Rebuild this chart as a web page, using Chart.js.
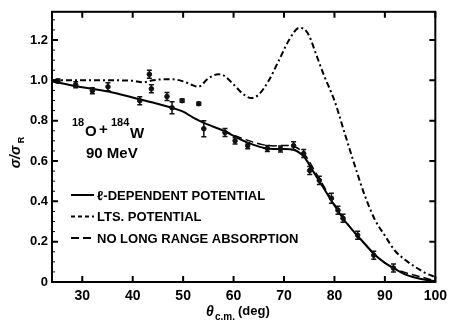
<!DOCTYPE html>
<html>
<head>
<meta charset="utf-8">
<script src="https://cdn.jsdelivr.net/npm/chart.js@4.4.1/dist/chart.umd.min.js"></script>
<style>
  html, body { margin: 0; padding: 0; background: #fff; }
  #wrap { width: 453px; height: 329px; }
</style>
</head>
<body>
<div id="wrap"><canvas id="chart"></canvas></div>
<script>
// axis ticks
const xTicks = [30, 40, 50, 60, 70, 80, 90, 100];
const yTicks = [0, 0.2, 0.4, 0.6, 0.8, 1.0, 1.2];

// measured points (deg, sigma/sigmaR, error)
const dataAngles = [25.2, 28.7, 32.0, 35.1, 41.4, 43.3, 43.7, 46.8, 47.8, 49.8, 53.1, 54.1, 58.3, 60.3, 62.8, 66.7, 69.3, 71.9, 73.9, 75.1, 77.0, 79.4, 80.7, 81.7, 84.6, 87.8, 91.7];
const dataValues = [0.997, 0.978, 0.948, 0.968, 0.899, 1.03, 0.958, 0.92, 0.864, 0.899, 0.884, 0.76, 0.741, 0.70, 0.676, 0.662, 0.66, 0.676, 0.637, 0.553, 0.504, 0.415, 0.356, 0.316, 0.232, 0.133, 0.069];
const dataErrors = [0.01, 0.015, 0.015, 0.02, 0.02, 0.02, 0.02, 0.02, 0.03, 0.008, 0.008, 0.04, 0.02, 0.015, 0.015, 0.015, 0.015, 0.02, 0.02, 0.02, 0.02, 0.025, 0.02, 0.02, 0.02, 0.02, 0.02];

// l-dependent potential (solid)
const ldepAngles = [24, 28, 32, 36, 40, 44, 48, 50, 52, 54, 56, 58, 60, 62, 64, 66, 68, 70, 72, 74, 76, 78, 80, 82, 84, 86, 88, 90, 92, 94, 96, 98, 100];
const ldepValues = [0.995, 0.975, 0.958, 0.94, 0.915, 0.89, 0.862, 0.845, 0.815, 0.79, 0.77, 0.75, 0.725, 0.70, 0.68, 0.665, 0.66, 0.66, 0.655, 0.62, 0.54, 0.46, 0.38, 0.305, 0.245, 0.19, 0.135, 0.095, 0.065, 0.038, 0.022, 0.011, 0.004];

// LTS potential (dashed, big peak)
const ltsAngles = [24, 30, 36, 40, 42, 44, 46, 48, 50, 52, 53, 55, 57, 58, 60, 62, 63.5, 65, 67, 69, 71, 73, 74, 75, 76.5, 78, 80, 82, 84, 86, 88, 90, 92, 94, 96, 98, 100];
const ltsValues = [1.0, 1.0, 1.0, 0.998, 0.99, 1.0, 1.005, 1.005, 0.995, 0.975, 0.968, 1.01, 1.03, 1.025, 0.98, 0.93, 0.912, 0.93, 1.0, 1.1, 1.2, 1.26, 1.255, 1.22, 1.12, 1.02, 0.9, 0.74, 0.58, 0.43, 0.31, 0.23, 0.155, 0.11, 0.075, 0.045, 0.025];

// no long range absorption (long dash)
const nlraAngles = [58, 60, 62, 64, 66, 68, 70, 72, 74, 76, 78, 80, 84, 90, 100];
const nlraValues = [0.752, 0.728, 0.71, 0.693, 0.68, 0.675, 0.677, 0.672, 0.635, 0.555, 0.47, 0.385, 0.245, 0.095, 0.004];

const legendLabels = ["\u2113-DEPENDENT POTENTIAL", "LTS. POTENTIAL", "NO LONG RANGE ABSORPTION"];

const pts = (xs, ys) => xs.map((x, i) => ({ x: x, y: ys[i] }));
const FONT = "'Liberation Sans', 'DejaVu Sans', sans-serif";

const frame = {
  id: 'frame',
  afterDatasetsDraw(chart) {
    const ctx = chart.ctx;
    const a = chart.chartArea;
    const xs = chart.scales.x, ys = chart.scales.y;
    ctx.save();
    // error bars
    const meta = chart.getDatasetMeta(0);
    ctx.strokeStyle = '#111';
    ctx.lineWidth = 1.5;
    meta.data.forEach((el, i) => {
      const e = dataErrors[i];
      const y1 = ys.getPixelForValue(dataValues[i] + e);
      const y2 = ys.getPixelForValue(dataValues[i] - e);
      ctx.beginPath();
      ctx.moveTo(el.x, y1); ctx.lineTo(el.x, y2);
      ctx.moveTo(el.x - 2.5, y1); ctx.lineTo(el.x + 2.5, y1);
      ctx.moveTo(el.x - 2.5, y2); ctx.lineTo(el.x + 2.5, y2);
      ctx.stroke();
    });
    // frame
    ctx.strokeStyle = '#000';
    ctx.lineWidth = 2;
    ctx.strokeRect(a.left, a.top, a.right - a.left, a.bottom - a.top);
    // ticks
    ctx.lineWidth = 2;
    ctx.beginPath();
    xTicks.forEach(v => {
      const px = xs.getPixelForValue(v);
      ctx.moveTo(px, a.bottom); ctx.lineTo(px, a.bottom - 6);
      ctx.moveTo(px, a.top); ctx.lineTo(px, a.top + 6);
    });
    yTicks.forEach(v => {
      const py = ys.getPixelForValue(v);
      ctx.moveTo(a.left, py); ctx.lineTo(a.left + 6, py);
      ctx.moveTo(a.right, py); ctx.lineTo(a.right - 6, py);
    });
    ctx.stroke();
    ctx.lineWidth = 1;
    ctx.beginPath();
    for (let v = 0.05; v < 1.34; v += 0.05) {
      const py = ys.getPixelForValue(v);
      ctx.moveTo(a.left, py); ctx.lineTo(a.left + 3, py);
    }
    ctx.stroke();

    // reaction label
    ctx.fillStyle = '#000';
    ctx.textBaseline = 'alphabetic';
    ctx.textAlign = 'left';
    ctx.font = 'bold 11px ' + FONT;
    ctx.fillText('18', 72, 126);
    ctx.fillText('184', 111, 126);
    ctx.font = 'bold 15px ' + FONT;
    ctx.fillText('O', 85, 136);
    ctx.fillText('+', 99, 134);
    ctx.fillText('W', 130, 138);
    ctx.fillText('90 MeV', 86, 158);

    // legend
    const styles = [[], [4, 3], [8, 4]];
    ctx.font = 'bold 13px ' + FONT;
    legendLabels.forEach((t, i) => {
      const y = 195 + i * 21.5;
      ctx.setLineDash(styles[i]);
      ctx.lineWidth = 2;
      ctx.beginPath();
      ctx.moveTo(71, y); ctx.lineTo(94, y);
      ctx.stroke();
      ctx.setLineDash([]);
      ctx.textBaseline = 'middle';
      ctx.fillText(t, 97, y + 1);
    });

    // x title
    ctx.textBaseline = 'alphabetic';
    ctx.font = 'italic bold 14px ' + FONT;
    ctx.fillText('\u03b8', 206, 316);
    ctx.font = 'bold 10px ' + FONT;
    ctx.fillText('c.m.', 215, 320);
    ctx.font = 'bold 13px ' + FONT;
    ctx.fillText('(deg)', 238, 315);

    // y title
    ctx.translate(20, 154);
    ctx.rotate(-Math.PI / 2);
    ctx.textAlign = 'center';
    ctx.font = 'italic bold 14px ' + FONT;
    ctx.fillText('\u03c3/\u03c3', -3, 0);
    ctx.font = 'bold 9px ' + FONT;
    ctx.fillText('R', 14, 4);
    ctx.restore();
  }
};

new Chart(document.getElementById('chart'), {
  type: 'scatter',
  data: {
    datasets: [
      {
        label: 'data',
        data: pts(dataAngles, dataValues),
        backgroundColor: '#111',
        borderColor: '#111',
        pointRadius: 2.3,
        showLine: false
      },
      {
        label: legendLabels[0],
        data: pts(ldepAngles, ldepValues),
        showLine: true,
        borderColor: '#000',
        borderWidth: 2,
        pointRadius: 0,
        cubicInterpolationMode: 'monotone'
      },
      {
        label: legendLabels[1],
        data: pts(ltsAngles, ltsValues),
        showLine: true,
        borderColor: '#000',
        borderWidth: 2,
        borderDash: [6, 3, 2, 3],
        pointRadius: 0,
        cubicInterpolationMode: 'monotone'
      },
      {
        label: legendLabels[2],
        data: pts(nlraAngles, nlraValues),
        showLine: true,
        borderColor: '#000',
        borderWidth: 1.5,
        borderDash: [8, 4],
        pointRadius: 0,
        cubicInterpolationMode: 'monotone'
      }
    ]
  },
  options: {
    responsive: true,
    maintainAspectRatio: false,
    animation: false,
    layout: { padding: { top: 11, right: 12, left: 0, bottom: 0 } },
    plugins: {
      legend: { display: false },
      tooltip: { enabled: false }
    },
    scales: {
      x: {
        type: 'linear',
        min: 24,
        max: 100,
        afterBuildTicks: s => { s.ticks = xTicks.map(v => ({ value: v })); },
        afterFit: s => { s.height = 47; },
        grid: { display: false, drawTicks: false },
        border: { display: false },
        ticks: {
          padding: 6,
          color: '#000',
          font: { family: FONT, size: 14, weight: 'bold' }
        }
      },
      y: {
        min: 0,
        max: 1.34,
        afterBuildTicks: s => { s.ticks = yTicks.map(v => ({ value: v })); },
        afterFit: s => { s.width = 52; },
        grid: { display: false, drawTicks: false },
        border: { display: false },
        ticks: {
          padding: 4,
          color: '#000',
          font: { family: FONT, size: 13, weight: 'bold' },
          callback: v => v === 0 ? '0' : v.toFixed(1)
        }
      }
    }
  },
  plugins: [frame]
});
</script>
</body>
</html>
